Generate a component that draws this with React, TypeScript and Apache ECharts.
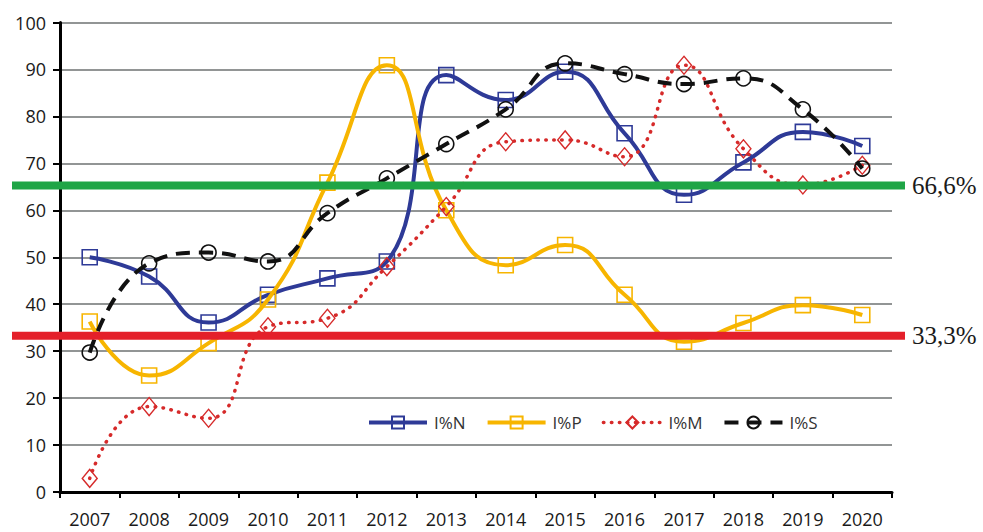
import React, { useEffect, useRef } from "react";
import * as echarts from "echarts";

const categories = ["2007", "2008", "2009", "2010", "2011", "2012", "2013", "2014", "2015", "2016", "2017", "2018", "2019", "2020"];
const seriesNames = ["I%N", "I%P", "I%M", "I%S"];
const valuesN = [50, 45.9, 36.1, 42, 45.5, 49.1, 88.8, 83.5, 89.5, 76.4, 63.3, 70.2, 76.7, 73.7];
const valuesP = [36.3, 24.8, 31.7, 41, 65.9, 90.9, 60, 48.3, 52.6, 42, 32, 36, 39.8, 37.7];
const valuesM = [2.9, 18.2, 15.7, 35.2, 37, 48, 60.8, 74.6, 75, 71.4, 90.9, 73.1, 65.4, 69.6];
const valuesS = [29.7, 48.7, 51, 49.1, 59.4, 66.8, 74.1, 81.5, 91.3, 89, 86.9, 88.1, 81.5, 68.9];
const thresholdValues = [65.3, 33.3];
const thresholdLabels = ["66,6%", "33,3%"];

const FONT = "'Open Sans', 'Liberation Sans', sans-serif";

export default function App() {
  const ref = useRef<HTMLDivElement>(null);
  useEffect(() => {
    document.body.style.margin = "0";
    const chart = echarts.init(ref.current!, null, { renderer: "svg" });
    const blue = "#2E3A97";
    const yellow = "#F7B500";
    const red = "#D62A2A";
    const black = "#111111";
    const lineStyles: any[] = [
      { color: blue, width: 4 },
      { color: yellow, width: 4 },
      { color: red, width: 3.5, type: [0.5, 7.5], cap: "round" },
      { color: black, width: 4, type: [14, 9] },
    ];
    chart.setOption({
      animation: false,
      backgroundColor: "#ffffff",
      grid: { left: 60, right: 91, top: 22.5, bottom: 40, containLabel: false },
      legend: {
        data: seriesNames.map((n, i) => ({ name: n, lineStyle: { ...lineStyles[i] } })),
        left: 362,
        top: 409,
        itemWidth: 58,
        itemHeight: 15,
        itemGap: 20,
        textStyle: { fontFamily: FONT, fontSize: 17, color: "#333", padding: [0, 0, 0, 2] },
      },
      xAxis: {
        type: "category",
        data: categories,
        boundaryGap: true,
        axisLine: { lineStyle: { color: "#000", width: 3 } },
        axisTick: { show: true, length: 6, lineStyle: { color: "#000", width: 2 } },
        axisLabel: { fontFamily: FONT, fontSize: 18, color: "#1a1a1a", margin: 18 },
        splitLine: { show: false },
      },
      yAxis: {
        type: "value",
        min: 0,
        max: 100,
        interval: 10,
        axisLine: { show: true, lineStyle: { color: "#000", width: 3 } },
        axisTick: { show: true, length: 7, lineStyle: { color: "#000", width: 2 } },
        axisLabel: { fontFamily: FONT, fontSize: 18, color: "#1a1a1a", margin: 14 },
        splitLine: { show: true, lineStyle: { color: "#6e7272", width: 1.5 } },
      },
      series: [
        {
          name: "I%N",
          type: "line",
          data: valuesN,
          smooth: 0.5,
          symbol: "rect",
          symbolSize: 15,
          lineStyle: lineStyles[0],
          itemStyle: { color: "rgba(255,255,255,0)", borderColor: blue, borderWidth: 1.6 },
          z: 2,
        },
        {
          name: "I%P",
          type: "line",
          data: valuesP,
          smooth: 0.5,
          symbol: "rect",
          symbolSize: 15,
          lineStyle: lineStyles[1],
          itemStyle: { color: "rgba(255,255,255,0)", borderColor: yellow, borderWidth: 1.6 },
          z: 3,
        },
        {
          name: "I%M",
          type: "line",
          data: valuesM,
          smooth: 0.5,
          symbol: "diamond",
          symbolSize: [15, 18],
          lineStyle: lineStyles[2],
          itemStyle: { color: "rgba(255,255,255,0)", borderColor: red, borderWidth: 1.4 },
          z: 4,
        },
        {
          name: "I%S",
          type: "line",
          data: valuesS,
          smooth: 0.5,
          symbol: "circle",
          symbolSize: 15,
          lineStyle: lineStyles[3],
          itemStyle: { color: "rgba(255,255,255,0)", borderColor: black, borderWidth: 1.6 },
          z: 5,
        },
      ],
    });

    const colors = ["#1FA546", "#E4202A"];
    const graphics: any[] = [];
    thresholdValues.forEach((v, i) => {
      const y = chart.convertToPixel({ yAxisIndex: 0 }, v) as number;
      graphics.push({
        type: "rect",
        shape: { x: 12, y: y - 4, width: 893, height: 8 },
        style: { fill: colors[i] },
        z: 10,
      });
      graphics.push({
        type: "text",
        x: 912,
        y: y,
        style: {
          text: thresholdLabels[i],
          fontFamily: "'Liberation Serif', 'DejaVu Serif', serif",
          fontSize: 25,
          fill: "#1a1a1a",
          verticalAlign: "middle",
          textAlign: "left",
        },
        z: 10,
      });
    });
    chart.setOption({ graphic: graphics });

    return () => chart.dispose();
  }, []);
  return <div ref={ref} style={{ width: 983, height: 532 }} />;
}
